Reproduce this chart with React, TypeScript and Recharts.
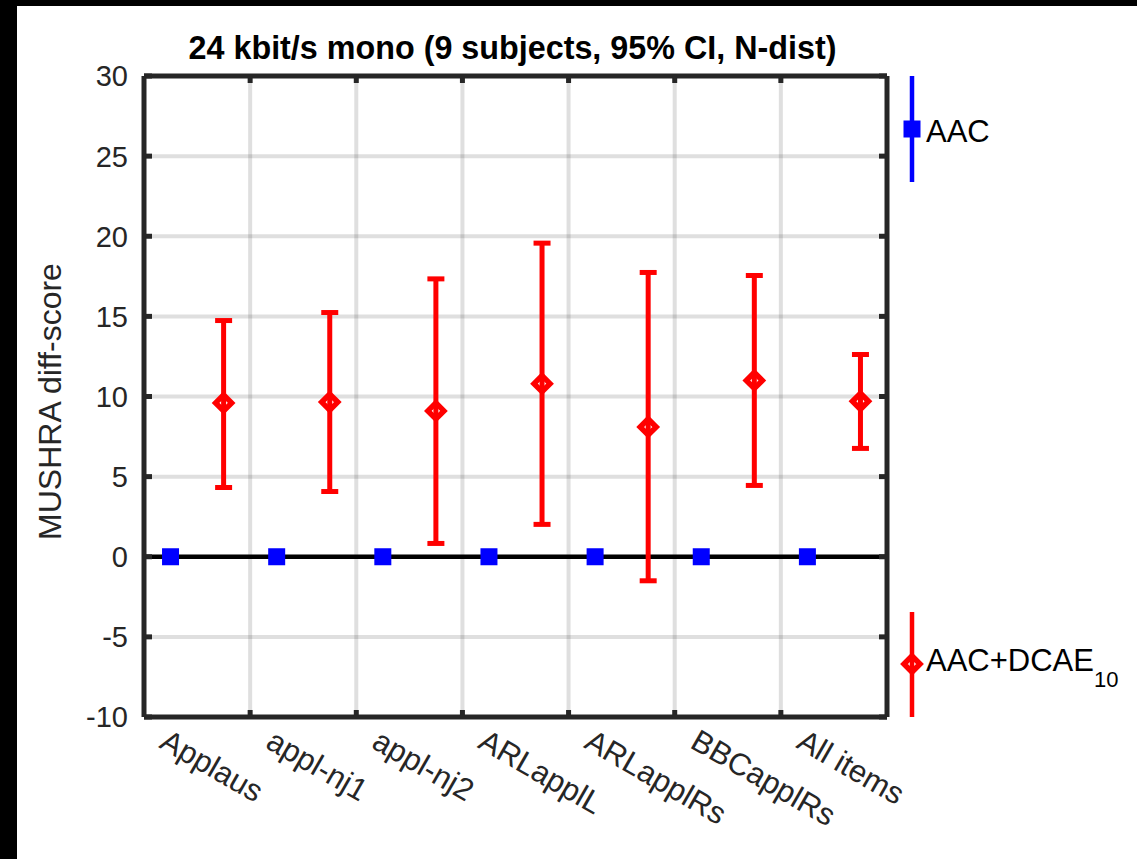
import {
  CartesianGrid,
  ErrorBar,
  Legend,
  ReferenceLine,
  Scatter,
  ScatterChart,
  XAxis,
  YAxis,
} from 'recharts';

const ITEMS = ['Applaus', 'appl-nj1', 'appl-nj2', 'ARLapplL', 'ARLapplRs', 'BBCapplRs', 'All items'];

// AAC is the reference: diff-score 0 everywhere
const AAC_MEAN = [0, 0, 0, 0, 0, 0, 0];

// AAC+DCAE_10 diff-score, mean and 95% CI bounds
const DCAE_MEAN = [9.6, 9.65, 9.1, 10.8, 8.1, 11.0, 9.7];
const DCAE_LOW = [4.32, 4.07, 0.83, 2.02, -1.5, 4.45, 6.76];
const DCAE_HIGH = [14.74, 15.24, 17.34, 19.57, 17.74, 17.55, 12.62];

const Y_TICKS = [-10, -5, 0, 5, 10, 15, 20, 25, 30];
const BOUNDARY_TICKS = [1.5, 2.5, 3.5, 4.5, 5.5, 6.5];
const ITEM_TICKS = [1, 2, 3, 4, 5, 6, 7];
const BOTTOM_TICKS = [...ITEM_TICKS, ...BOUNDARY_TICKS].sort((a, b) => a - b);

const TITLE = '24 kbit/s mono (9 subjects, 95% CI, N-dist)';
const Y_LABEL = 'MUSHRA diff-score';

const FONT = '"Liberation Sans", Arial, Helvetica, sans-serif';
const AXIS_COLOR = '#262626';
const BLUE = '#0000ff';
const RED = '#ff0000';

const aacRows = AAC_MEAN.map((v, i) => ({ x: i + 1 - 0.25, y: v }));
const dcaeRows = DCAE_MEAN.map((v, i) => ({
  x: i + 1 + 0.25,
  y: v,
  err: [v - DCAE_LOW[i], DCAE_HIGH[i] - v],
}));

const Square = ({ cx, cy }: any) => (
  <rect x={cx - 8.5} y={cy - 8.5} width={17} height={17} fill={BLUE} />
);

const Diamond = ({ cx, cy }: any) => (
  <path
    d={`M${cx},${cy - 8}L${cx + 8},${cy}L${cx},${cy + 8}L${cx - 8},${cy}Z`}
    fill="none"
    stroke={RED}
    strokeWidth={5.5}
    strokeLinejoin="miter"
  />
);

const LeftTick = ({ x, y, payload }: any) => (
  <g>
    <line x1={x} x2={x + 8} y1={y} y2={y} stroke={AXIS_COLOR} strokeWidth={5} />
    <text x={x - 16} y={y} dy="0.36em" textAnchor="end" fontSize={29} fontFamily={FONT} fill={AXIS_COLOR}>
      {payload.value}
    </text>
  </g>
);

const RightTick = ({ x, y }: any) => (
  <line x1={x - 8} x2={x} y1={y} y2={y} stroke={AXIS_COLOR} strokeWidth={5} />
);

const TopTick = ({ x, y }: any) => (
  <line x1={x} x2={x} y1={y} y2={y + 7} stroke={AXIS_COLOR} strokeWidth={5} />
);

// bottom axis: item names at the centres, inward tick marks at the boundaries
const BottomTick = ({ x, y, payload }: any) => {
  const v = payload.value;
  if (!Number.isInteger(v)) {
    return <line x1={x} x2={x} y1={y} y2={y - 7} stroke={AXIS_COLOR} strokeWidth={5} />;
  }
  const tx = x - 39;
  const ty = y + 30;
  return (
    <text
      x={tx}
      y={ty}
      transform={`rotate(30, ${tx}, ${ty})`}
      textAnchor="start"
      fontSize={31}
      fontFamily={FONT}
      fill={AXIS_COLOR}
    >
      {ITEMS[v - 1]}
    </text>
  );
};

const TitleLabel = ({ viewBox }: any) => (
  <text
    x={viewBox.x + viewBox.width / 2 - 3}
    y={viewBox.y - 16}
    textAnchor="middle"
    fontSize={32.3}
    fontWeight="bold"
    fontFamily={FONT}
    fill="#000"
  >
    {TITLE}
  </text>
);

const YAxisLabel = ({ viewBox }: any) => {
  const lx = viewBox.x - 82;
  const ly = viewBox.y + viewBox.height / 2 + 5;
  return (
    <text
      x={lx}
      y={ly}
      transform={`rotate(-90, ${lx}, ${ly})`}
      textAnchor="middle"
      fontSize={32}
      fontFamily={FONT}
      fill={AXIS_COLOR}
    >
      {Y_LABEL}
    </text>
  );
};

// legend sits outside the box on the right, one entry at the top, one at the bottom
const LegendContent = ({ payload }: any) => {
  const items = payload || [];
  const aac = items.find((p: any) => p.value === 'AAC') || { value: 'AAC', color: BLUE };
  const dcae = items.find((p: any) => p.value !== 'AAC') || { value: 'AAC+DCAE_10', color: RED };
  const [base, sub] = String(dcae.value).split('_');
  return (
    <svg width={1120} height={853} style={{ position: 'absolute', left: 0, top: 0 }}>
      <line x1={895} x2={895} y1={70} y2={176} stroke={aac.color} strokeWidth={4.5} />
      <rect x={895 - 8.5} y={123 - 8.5} width={17} height={17} fill={aac.color} />
      <text x={909} y={136} fontSize={31} fontFamily={FONT} fill="#000">
        {aac.value}
      </text>
      <line x1={895} x2={895} y1={606} y2={711} stroke={dcae.color} strokeWidth={4.5} />
      <Diamond cx={895} cy={658} />
      <text x={909} y={665} fontSize={31} fontFamily={FONT} fill="#000">
        {base}
        {sub && (
          <tspan dy={16} fontSize={22}>
            {sub}
          </tspan>
        )}
      </text>
    </svg>
  );
};

export default function App() {
  return (
    <div style={{ position: 'absolute', left: 0, top: 0, width: 1137, height: 859, background: '#000' }}>
      <div style={{ position: 'absolute', left: 17, top: 6, width: 1120, height: 853, background: '#fff' }}>
        <ScatterChart width={1120} height={853} margin={{ top: 69, right: 249, bottom: 141, left: 126 }}>
          <CartesianGrid
            xAxisId="cat"
            yAxisId="left"
            verticalValues={BOUNDARY_TICKS}
            stroke={AXIS_COLOR}
            strokeOpacity={0.15}
            strokeWidth={4}
          />
          <XAxis
            xAxisId="top"
            dataKey="x"
            type="number"
            orientation="top"
            domain={[0.5, 7.5]}
            allowDataOverflow
            ticks={BOUNDARY_TICKS}
            interval={0}
            height={1}
            tickSize={0}
            tickMargin={0}
            tickLine={false}
            tick={<TopTick />}
            axisLine={{ stroke: AXIS_COLOR, strokeWidth: 5 }}
            label={<TitleLabel />}
          />
          <XAxis
            xAxisId="cat"
            dataKey="x"
            type="number"
            orientation="bottom"
            domain={[0.5, 7.5]}
            allowDataOverflow
            ticks={BOTTOM_TICKS}
            interval={0}
            height={1}
            tickSize={0}
            tickMargin={0}
            tickLine={false}
            axisLine={{ stroke: AXIS_COLOR, strokeWidth: 5 }}
            tick={<BottomTick />}
          />
          <YAxis
            yAxisId="left"
            dataKey="y"
            type="number"
            domain={[-10, 30]}
            allowDataOverflow
            ticks={Y_TICKS}
            interval={0}
            width={1}
            tickSize={0}
            tickMargin={0}
            tickLine={false}
            tick={<LeftTick />}
            axisLine={{ stroke: AXIS_COLOR, strokeWidth: 5 }}
            label={<YAxisLabel />}
          />
          <YAxis
            yAxisId="right"
            dataKey="y"
            orientation="right"
            type="number"
            domain={[-10, 30]}
            allowDataOverflow
            ticks={Y_TICKS}
            interval={0}
            width={1}
            tickSize={0}
            tickMargin={0}
            tickLine={false}
            tick={<RightTick />}
            axisLine={{ stroke: AXIS_COLOR, strokeWidth: 5 }}
          />
          <ReferenceLine xAxisId="cat" yAxisId="left" y={0} stroke="#000" strokeWidth={4.5} />
          <Scatter
            name="AAC"
            data={aacRows}
            xAxisId="cat"
            yAxisId="left"
            fill={BLUE}
            legendType="square"
            shape={<Square />}
            isAnimationActive={false}
          />
          <Scatter
            name="AAC+DCAE_10"
            data={dcaeRows}
            xAxisId="top"
            yAxisId="right"
            fill={RED}
            legendType="diamond"
            shape={<Diamond />}
            isAnimationActive={false}
          >
            <ErrorBar dataKey="err" direction="y" width={8.5} strokeWidth={5} stroke={RED} />
          </Scatter>
          <Legend
            layout="horizontal"
            verticalAlign="middle"
            align="center"
            wrapperStyle={{ position: 'absolute', left: 0, top: 0, width: 1120, height: 853, pointerEvents: 'none' }}
            content={<LegendContent />}
          />
        </ScatterChart>
      </div>
    </div>
  );
}
